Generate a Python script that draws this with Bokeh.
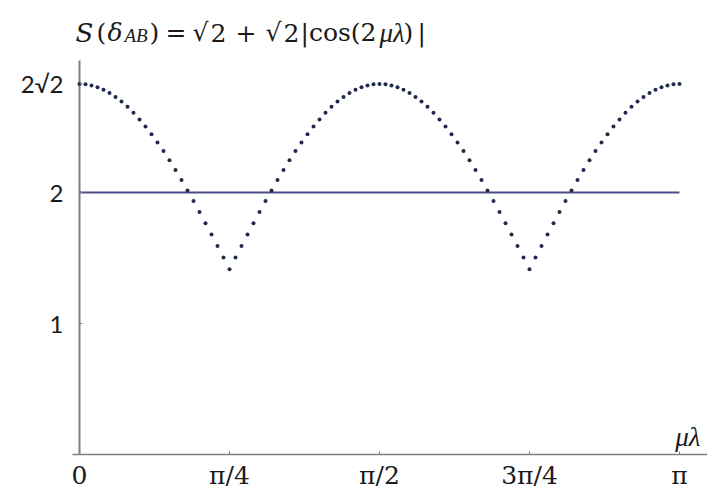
from bokeh.plotting import figure
from bokeh.models import Range1d, FixedTicker, Label
from bokeh.embed import file_html
from bokeh.resources import INLINE

# ---- data ----
# mu*lambda in units of pi
mu_lambda = [0.00, 0.01, 0.02, 0.03, 0.04, 0.05, 0.06, 0.07, 0.08, 0.09,
             0.10, 0.11, 0.12, 0.13, 0.14, 0.15, 0.16, 0.17, 0.18, 0.19,
             0.20, 0.21, 0.22, 0.23, 0.24, 0.25, 0.26, 0.27, 0.28, 0.29,
             0.30, 0.31, 0.32, 0.33, 0.34, 0.35, 0.36, 0.37, 0.38, 0.39,
             0.40, 0.41, 0.42, 0.43, 0.44, 0.45, 0.46, 0.47, 0.48, 0.49,
             0.50, 0.51, 0.52, 0.53, 0.54, 0.55, 0.56, 0.57, 0.58, 0.59,
             0.60, 0.61, 0.62, 0.63, 0.64, 0.65, 0.66, 0.67, 0.68, 0.69,
             0.70, 0.71, 0.72, 0.73, 0.74, 0.75, 0.76, 0.77, 0.78, 0.79,
             0.80, 0.81, 0.82, 0.83, 0.84, 0.85, 0.86, 0.87, 0.88, 0.89,
             0.90, 0.91, 0.92, 0.93, 0.94, 0.95, 0.96, 0.97, 0.98, 0.99,
             1.00]
S_values = [2.828, 2.826, 2.817, 2.803, 2.784, 2.759, 2.729, 2.694, 2.654, 2.608,
            2.558, 2.504, 2.445, 2.382, 2.316, 2.246, 2.172, 2.096, 2.016, 1.935,
            1.851, 1.766, 1.679, 1.592, 1.503, 1.414, 1.503, 1.592, 1.679, 1.766,
            1.851, 1.935, 2.016, 2.096, 2.172, 2.246, 2.316, 2.382, 2.445, 2.504,
            2.558, 2.608, 2.654, 2.694, 2.729, 2.759, 2.784, 2.803, 2.817, 2.826,
            2.828, 2.826, 2.817, 2.803, 2.784, 2.759, 2.729, 2.694, 2.654, 2.608,
            2.558, 2.504, 2.445, 2.382, 2.316, 2.246, 2.172, 2.096, 2.016, 1.935,
            1.851, 1.766, 1.679, 1.592, 1.503, 1.414, 1.503, 1.592, 1.679, 1.766,
            1.851, 1.935, 2.016, 2.096, 2.172, 2.246, 2.316, 2.382, 2.445, 2.504,
            2.558, 2.608, 2.654, 2.694, 2.729, 2.759, 2.784, 2.803, 2.817, 2.826,
            2.828]
bound_x = [0.0, 1.0]
bound_y = [2.0, 2.0]
x_ticks = [0, 0.25, 0.5, 0.75, 1]
x_tick_labels = ["0", "π/4", "π/2", "3π/4", "π"]
y_ticks = [1, 2, 2.8284271247461903]
y_tick_labels = ["1", "2", "2√2"]
y_axis_top = 3.008
x_axis_start = -0.0117
x_axis_end = 1.0467

SERIF = "DejaVu Serif"
ITAL = "Liberation Serif"
INK = "#1a1a1a"

p = figure(width=707, height=491,
           x_range=Range1d(-0.131667, 1.046667),
           y_range=Range1d(-0.28244, 3.46565),
           output_backend="svg", toolbar_location=None,
           min_border_left=0, min_border_right=0,
           min_border_top=0, min_border_bottom=0)
p.outline_line_color = None
p.grid.visible = False
p.background_fill_color = "white"
p.border_fill_color = "white"

# x axis at y = 0
xa = p.xaxis[0]
xa.fixed_location = 0
xa.ticker = FixedTicker(ticks=x_ticks)
xa.major_label_overrides = {t: l for t, l in zip(x_ticks, x_tick_labels)}
xa.axis_line_color = None
xa.major_tick_in = 3
xa.major_tick_out = 0
xa.minor_tick_line_color = None
xa.major_tick_line_color = "#7f7f7f"
xa.major_label_standoff = 6
xa.major_label_text_font = SERIF
xa.major_label_text_font_size = "25px"
xa.major_label_text_color = INK

# y axis at x = 0
ya = p.yaxis[0]
ya.fixed_location = 0
ya.ticker = FixedTicker(ticks=y_ticks)
ya.major_label_overrides = {t: l for t, l in zip(y_ticks, y_tick_labels)}
ya.axis_line_color = None
ya.major_tick_in = 3
ya.major_tick_out = 0
ya.minor_tick_line_color = None
ya.major_tick_line_color = "#7f7f7f"
ya.major_label_standoff = 16
ya.major_label_text_font = "Lato"
ya.major_label_text_font_size = "24px"
ya.major_label_text_color = INK

# axis lines
p.segment(x0=[x_axis_start], y0=[0], x1=[x_axis_end], y1=[0], line_color="#7f7f7f", line_width=1.6)
p.segment(x0=[0], y0=[0], x1=[0], y1=[y_axis_top], line_color="#808080", line_width=2)

# classical bound line at S = 2
p.line(bound_x, bound_y, line_color="#4a4c88", line_width=2)

# dotted curve
p.scatter(mu_lambda, S_values, size=4, marker="circle",
          fill_color="#1f2b4a", line_color=None)

# title composed of pieces (x in data units = (px - 79)/600)
ty = 3.221
pieces = [
    ("S", -0.00667, ty, SERIF, "italic", "26px"),
    ("(", 0.02833, ty, SERIF, "normal", "25px"),
    ("δ", 0.04667, ty, SERIF, "italic", "25px"),
    ("AB", 0.07500, 3.195, ITAL, "italic", "19px"),
    (")", 0.11667, ty, SERIF, "normal", "25px"),
    ("=", 0.14333, ty, SERIF, "normal", "25px"),
    ("√", 0.18833, ty, SERIF, "normal", "25px"),
    ("2", 0.21833, ty, SERIF, "normal", "25px"),
    ("+", 0.26000, ty, SERIF, "normal", "25px"),
    ("√", 0.31000, ty, SERIF, "normal", "25px"),
    ("2", 0.34000, ty, SERIF, "normal", "25px"),
    ("|cos(2", 0.36833, ty, SERIF, "normal", "25px"),
    ("μλ", 0.50000, ty, ITAL, "italic", "27px"),
    (")", 0.54000, ty, SERIF, "normal", "25px"),
    ("|", 0.56333, ty, SERIF, "normal", "25px"),
]
for txt, x, y, font, style, size in pieces:
    p.add_layout(Label(x=x, y=y, text=txt, text_font=font, text_font_style=style,
                       text_font_size=size, text_color=INK,
                       text_align="left", text_baseline="alphabetic"))

# axis name
p.add_layout(Label(x=0.993, y=0.13, text="μλ", text_font=ITAL, text_font_style="italic",
                   text_font_size="27px", text_color=INK,
                   text_align="left", text_baseline="alphabetic"))

open("out.html", "w").write(file_html(p, INLINE))
